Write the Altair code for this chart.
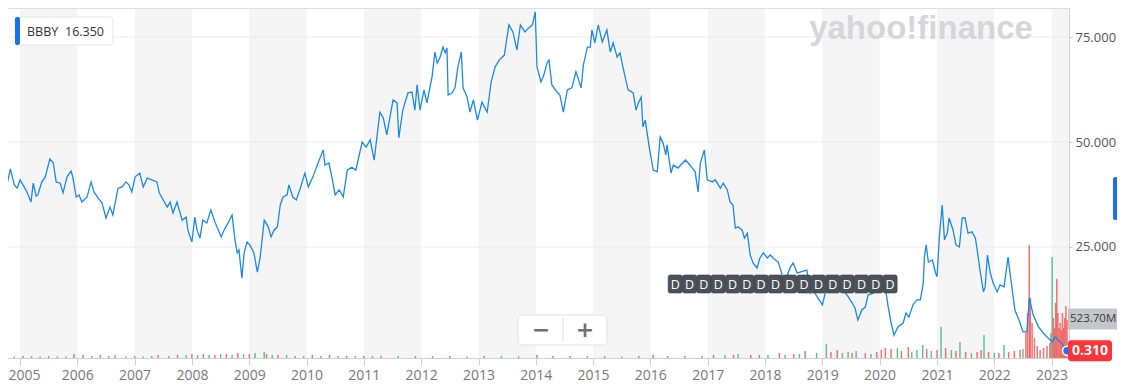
import altair as alt
import pandas as pd

# ---------------- data ----------------
ticker = "BBBY"
legend_value = "16.350"
last_volume_label = "523.70M"
last_volume_m = 523.70

# weekly close, sampled (decimal year, USD)
price_t = [2004.69, 2004.72, 2004.76, 2004.83, 2004.90, 2004.95, 2005.00, 2005.05, 2005.12, 2005.19,
           2005.23, 2005.28, 2005.31, 2005.38, 2005.44, 2005.52, 2005.58, 2005.63, 2005.70, 2005.75,
           2005.82, 2005.89, 2005.92, 2005.98, 2006.03, 2006.08, 2006.17, 2006.24, 2006.29, 2006.36,
           2006.43, 2006.50, 2006.57, 2006.62, 2006.66, 2006.71, 2006.78, 2006.85, 2006.90, 2006.95,
           2007.01, 2007.09, 2007.15, 2007.22, 2007.30, 2007.39, 2007.43, 2007.50, 2007.57, 2007.62,
           2007.67, 2007.74, 2007.83, 2007.90, 2007.93, 2008.00, 2008.05, 2008.09, 2008.14, 2008.19,
           2008.26, 2008.33, 2008.40, 2008.51, 2008.56, 2008.61, 2008.70, 2008.75, 2008.79, 2008.82,
           2008.87, 2008.91, 2008.96, 2009.01, 2009.08, 2009.14, 2009.19, 2009.26, 2009.33, 2009.38,
           2009.43, 2009.49, 2009.54, 2009.59, 2009.66, 2009.69, 2009.76, 2009.82, 2009.89, 2009.97,
           2010.03, 2010.11, 2010.20, 2010.29, 2010.32, 2010.39, 2010.44, 2010.50, 2010.57, 2010.64,
           2010.71, 2010.79, 2010.86, 2010.97, 2011.04, 2011.11, 2011.18, 2011.28, 2011.34, 2011.40,
           2011.51, 2011.58, 2011.61, 2011.68, 2011.77, 2011.84, 2011.89, 2011.93, 2011.98, 2012.05,
           2012.10, 2012.19, 2012.24, 2012.28, 2012.33, 2012.38, 2012.42, 2012.45, 2012.47, 2012.54,
           2012.59, 2012.64, 2012.70, 2012.73, 2012.80, 2012.85, 2012.91, 2012.98, 2013.06, 2013.15,
           2013.22, 2013.29, 2013.36, 2013.45, 2013.53, 2013.60, 2013.67, 2013.73, 2013.81, 2013.87,
           2013.94, 2013.99, 2014.02, 2014.09, 2014.14, 2014.20, 2014.23, 2014.28, 2014.37, 2014.42,
           2014.48, 2014.55, 2014.63, 2014.70, 2014.73, 2014.79, 2014.83, 2014.90, 2014.95, 2014.98,
           2015.03, 2015.09, 2015.16, 2015.24, 2015.30, 2015.35, 2015.42, 2015.47, 2015.52, 2015.61,
           2015.70, 2015.75, 2015.79, 2015.84, 2015.87, 2015.91, 2015.98, 2016.05, 2016.12, 2016.17,
           2016.22, 2016.27, 2016.29, 2016.36, 2016.40, 2016.48, 2016.61, 2016.66, 2016.73, 2016.78,
           2016.83, 2016.87, 2016.94, 2016.99, 2017.08, 2017.13, 2017.22, 2017.27, 2017.34, 2017.39,
           2017.44, 2017.48, 2017.53, 2017.60, 2017.64, 2017.69, 2017.74, 2017.79, 2017.86, 2017.91,
           2017.97, 2018.04, 2018.09, 2018.14, 2018.23, 2018.30, 2018.37, 2018.44, 2018.49, 2018.56,
           2018.61, 2018.73, 2018.79, 2018.86, 2018.91, 2019.00, 2019.05, 2019.14, 2019.22, 2019.31,
           2019.43, 2019.52, 2019.57, 2019.62, 2019.69, 2019.75, 2019.80, 2019.89, 2019.96, 2020.01,
           2020.10, 2020.15, 2020.20, 2020.25, 2020.32, 2020.41, 2020.46, 2020.51, 2020.58, 2020.65,
           2020.71, 2020.76, 2020.78, 2020.81, 2020.85, 2020.92, 2020.97, 2021.00, 2021.04, 2021.09,
           2021.13, 2021.18, 2021.21, 2021.28, 2021.33, 2021.39, 2021.44, 2021.49, 2021.54, 2021.61,
           2021.67, 2021.70, 2021.75, 2021.81, 2021.84, 2021.88, 2021.93, 2021.98, 2022.05, 2022.10,
           2022.17, 2022.24, 2022.29, 2022.36, 2022.45, 2022.50, 2022.57, 2022.61, 2022.68, 2022.77,
           2022.89, 2023.01, 2023.06, 2023.15, 2023.24, 2023.27]
price_v = [39.3, 38.8, 39.0, 43.6, 39.8, 39.0, 41.0, 39.8, 38.1, 35.7,
           40.2, 37.1, 37.4, 40.5, 41.7, 46.0, 45.0, 40.5, 40.2, 37.9,
           41.7, 43.1, 41.7, 36.9, 37.4, 35.7, 36.9, 40.5, 38.1, 36.7,
           35.5, 31.9, 34.5, 32.6, 35.5, 39.0, 39.3, 40.5, 39.8, 38.1,
           41.7, 42.6, 39.3, 41.4, 41.0, 40.5, 37.9, 36.2, 34.5, 35.7,
           33.1, 35.7, 31.4, 32.1, 29.0, 26.2, 32.1, 29.0, 27.1, 31.4,
           30.7, 33.8, 31.0, 27.4, 29.0, 30.2, 32.6, 26.7, 23.6, 24.3,
           17.6, 23.6, 26.2, 25.5, 23.6, 19.0, 22.6, 31.4, 29.8, 27.4,
           29.0, 29.8, 35.0, 36.9, 37.4, 39.8, 36.9, 36.2, 39.0, 42.6,
           39.3, 41.7, 45.0, 48.1, 44.5, 45.0, 41.7, 37.4, 38.6, 36.9,
           43.3, 44.0, 43.3, 50.0, 48.8, 50.5, 45.7, 57.1, 55.7, 51.7,
           60.0, 59.3, 51.0, 57.6, 61.7, 61.9, 57.6, 63.6, 57.6, 62.4,
           59.3, 65.5, 71.4, 68.8, 70.2, 72.6, 71.2, 72.4, 61.2, 61.7,
           62.9, 67.9, 71.4, 62.9, 60.7, 57.1, 60.0, 55.2, 59.5, 57.1,
           64.3, 67.9, 69.5, 70.7, 77.9, 76.2, 71.9, 77.9, 76.2, 77.1,
           77.9, 81.0, 67.9, 64.3, 66.0, 69.0, 69.5, 63.6, 61.9, 61.2,
           57.1, 62.4, 62.9, 66.7, 65.5, 62.9, 68.3, 72.6, 72.6, 76.7,
           73.6, 77.9, 73.8, 76.7, 71.4, 73.6, 70.2, 71.2, 67.9, 62.4,
           61.7, 57.6, 59.3, 60.7, 53.6, 55.2, 48.8, 43.3, 42.9, 51.2,
           49.8, 46.9, 49.3, 42.6, 44.5, 43.8, 45.7, 45.0, 43.8, 42.9,
           38.1, 45.0, 48.1, 41.0, 40.5, 41.0, 39.0, 40.2, 38.6, 35.7,
           35.0, 29.5, 29.8, 29.0, 27.1, 28.3, 23.1, 21.2, 20.0, 22.4,
           23.6, 22.4, 23.1, 22.4, 21.4, 18.3, 17.6, 20.2, 21.2, 18.8,
           19.0, 19.5, 14.0, 14.3, 13.1, 11.2, 14.0, 15.2, 14.8, 15.5,
           13.6, 11.7, 10.5, 7.6, 10.0, 10.7, 13.6, 14.0, 16.4, 15.2,
           15.2, 10.7, 6.9, 4.0, 6.0, 6.9, 9.3, 8.3, 11.2, 12.4,
           12.4, 16.4, 22.6, 25.5, 21.4, 21.9, 19.0, 17.9, 27.4, 35.0,
           26.7, 28.3, 31.9, 29.0, 25.5, 25.0, 31.9, 31.9, 28.3, 28.6,
           27.1, 24.3, 19.5, 14.3, 15.5, 23.1, 18.8, 16.4, 14.3, 16.0,
           15.5, 22.6, 17.1, 10.0, 6.9, 4.8, 4.8, 12.9, 8.8, 6.0,
           4.0, 2.4, 3.6, 2.4, 1.0, 0.31]

# weekly volume (decimal year, millions of shares, 1 = up week)
vol_t = [2004.75, 2004.90, 2005.05, 2005.20, 2005.35, 2005.50, 2005.65, 2005.80, 2005.94, 2006.10,
         2006.25, 2006.40, 2006.55, 2006.66, 2006.85, 2007.00, 2007.15, 2007.30, 2007.41, 2007.60,
         2007.75, 2007.90, 2008.00, 2008.10, 2008.20, 2008.30, 2008.40, 2008.50, 2008.60, 2008.70,
         2008.80, 2008.90, 2009.00, 2009.10, 2009.26, 2009.30, 2009.40, 2009.50, 2009.65, 2009.80,
         2009.95, 2010.10, 2010.25, 2010.40, 2010.55, 2010.70, 2010.85, 2011.00, 2011.15, 2011.30,
         2011.60, 2011.90, 2012.20, 2012.50, 2012.80, 2013.10, 2013.40, 2013.70, 2014.02, 2014.30,
         2014.60, 2014.90, 2015.20, 2015.50, 2015.80, 2016.05, 2016.30, 2016.60, 2016.90, 2017.10,
         2017.30, 2017.45, 2017.53, 2017.75, 2017.90, 2018.05, 2018.25, 2018.35, 2018.50, 2018.60,
         2018.70, 2018.90, 2019.07, 2019.15, 2019.26, 2019.35, 2019.45, 2019.52, 2019.59, 2019.75,
         2019.85, 2019.95, 2020.03, 2020.10, 2020.20, 2020.31, 2020.38, 2020.50, 2020.56, 2020.65,
         2020.75, 2020.82, 2020.90, 2021.00, 2021.07, 2021.15, 2021.25, 2021.33, 2021.40, 2021.50,
         2021.60, 2021.70, 2021.77, 2021.82, 2021.90, 2022.00, 2022.08, 2022.17, 2022.25, 2022.35,
         2022.45, 2022.50, 2022.55, 2022.58, 2022.61, 2022.63, 2022.66, 2022.70, 2022.75, 2022.80,
         2022.86, 2022.92, 2022.97, 2022.99, 2023.01, 2023.03, 2023.05, 2023.07, 2023.09, 2023.11,
         2023.13, 2023.15, 2023.17, 2023.19, 2023.21, 2023.23, 2023.25, 2023.27]
vol_m = [27, 20, 27, 25, 20, 27, 20, 20, 54, 40,
         27, 40, 27, 40, 20, 27, 20, 27, 40, 27,
         40, 40, 54, 40, 54, 40, 40, 54, 54, 40,
         67, 54, 54, 67, 80, 54, 40, 40, 40, 27,
         27, 40, 27, 40, 27, 27, 27, 27, 27, 27,
         27, 27, 27, 27, 20, 27, 27, 20, 40, 27,
         27, 27, 27, 20, 27, 40, 27, 27, 27, 40,
         40, 40, 54, 40, 40, 40, 67, 40, 54, 54,
         94, 67, 188, 80, 107, 67, 80, 67, 94, 67,
         54, 80, 107, 134, 120, 134, 94, 147, 80, 107,
         174, 120, 94, 107, 415, 134, 107, 94, 214, 80,
         67, 80, 107, 308, 80, 67, 67, 174, 80, 94,
         107, 120, 335, 603, 1514, 804, 469, 268, 160, 107,
         134, 160, 200, 335, 1353, 536, 402, 737, 1059, 603,
         402, 469, 375, 603, 402, 536, 697, 509]
vol_up = [0, 1, 0, 1, 0, 1, 0, 1, 0, 0,
          1, 0, 1, 1, 1, 0, 1, 0, 0, 1,
          0, 1, 0, 1, 0, 1, 0, 1, 0, 1,
          0, 1, 0, 1, 1, 0, 1, 0, 1, 0,
          1, 0, 1, 0, 1, 0, 1, 0, 1, 0,
          1, 0, 1, 0, 1, 0, 1, 0, 0, 1,
          0, 1, 0, 1, 0, 0, 1, 0, 1, 0,
          1, 0, 1, 0, 0, 1, 0, 1, 0, 1,
          0, 1, 1, 0, 0, 1, 1, 0, 1, 0,
          1, 0, 0, 0, 0, 1, 0, 0, 1, 1,
          1, 0, 1, 0, 1, 0, 1, 0, 1, 0,
          1, 0, 0, 1, 0, 1, 0, 1, 0, 0,
          0, 1, 0, 0, 0, 0, 0, 0, 0, 0,
          0, 0, 0, 0, 1, 0, 0, 0, 0, 0,
          0, 0, 0, 0, 0, 0, 0, 0]

# dividend ("D") markers
div_dates = ["2016-06-08", "2016-09-07", "2016-12-07", "2017-03-08", "2017-06-08", "2017-09-07",
             "2017-12-07", "2018-03-08", "2018-06-07", "2018-09-07", "2018-12-07", "2019-03-08",
             "2019-06-07", "2019-09-07", "2019-12-07", "2020-03-07"]
div_label = "D"

tick_years = list(range(2005, 2024))
band_years = list(range(2005, 2024, 2))
grid_prices = [25, 50, 75]

# ---------------- build tables ----------------
def dec2date(t):
    y = int(t)
    s = pd.Timestamp(year=y, month=1, day=1)
    e = pd.Timestamp(year=y + 1, month=1, day=1)
    return s + (e - s) * (t - y)

price_df = pd.DataFrame({"date": [dec2date(t) for t in price_t], "price": price_v})
vol_df = pd.DataFrame({"date": [dec2date(t) for t in vol_t], "vol": vol_m,
                       "dir": ["up" if u else "down" for u in vol_up]})
band_df = pd.DataFrame({"start": [pd.Timestamp(year=y, month=1, day=1) for y in band_years],
                        "end": [pd.Timestamp(year=y + 1, month=1, day=1) for y in band_years]})
grid_df = pd.DataFrame({"p": grid_prices})
div_df = pd.DataFrame({"date": pd.to_datetime(div_dates), "label": div_label})
last_df = price_df.tail(1).copy()
last_df["label"] = [f"{v:.3f}" for v in last_df["price"]]
vlab_df = pd.DataFrame({"vol": [last_volume_m], "label": [last_volume_label]})
one = pd.DataFrame({"k": [0]})

W, H = 1069, 353
FONT = "Open Sans"
LINE = "#1e88e5"

xs = alt.Scale(domain=[alt.DateTime(year=2004, month=8, date=26),
                       alt.DateTime(year=2023, month=4, date=22)])
ps = alt.Scale(domain=[-1.43, 82.62], nice=False, zero=False)
vs = alt.Scale(domain=[0, 4730], nice=False, zero=False)

x_axis = alt.Axis(values=[alt.DateTime(year=y, month=1, date=1) for y in tick_years],
                  format="%Y", title=None, grid=False, labelFont=FONT, labelFontSize=14,
                  labelColor="#7a7a7a", tickColor="#cfcfcf", tickSize=7, domainColor="#d2d2d2",
                  labelPadding=3, labelOverlap=False, labelFlush=False,
                  labelOffset={"expr": "year(datum.value) == 2005 ? 4 : 0"})
y_axis = alt.Axis(orient="right", values=grid_prices, format=".3f", title=None, grid=False,
                  labelFont=FONT, labelFontSize=13, labelColor="#555555", tickColor="#c8c8c8",
                  tickSize=3, domainColor="#d2d2d2", labelPadding=3)


def X(field):
    return alt.X(field, scale=xs, axis=x_axis)


bands = alt.Chart(band_df).mark_rect(color="#f5f5f5", clip=True).encode(
    x=X("start:T"), x2="end:T", y=alt.value(0), y2=alt.value(H))

top_line = alt.Chart(one).mark_rule(color="#dedede").encode(
    x=alt.value(0), x2=alt.value(W), y=alt.value(3.5))

grid = alt.Chart(grid_df).mark_rule(color="#ebebeb").encode(
    y=alt.Y("p:Q", scale=ps, axis=None))

watermark = alt.Chart(one).mark_text(
    text="yahoo!finance", font="Liberation Sans", fontSize=33, fontWeight="bold",
    color="#d6d6da", align="center", baseline="alphabetic").encode(
    x=alt.value(921), y=alt.value(33.5))

volume = alt.Chart(vol_df).mark_rule(strokeWidth=1.5, opacity=0.85, clip=True).encode(
    x=X("date:T"),
    y=alt.Y("vol:Q", scale=vs, axis=None),
    y2=alt.datum(0),
    color=alt.Color("dir:N", scale=alt.Scale(domain=["up", "down"], range=["#45b97c", "#f05a5a"]),
                    legend=None))

line = alt.Chart(price_df).mark_line(color=LINE, strokeWidth=1.3, clip=True).encode(
    x=X("date:T"), y=alt.Y("price:Q", scale=ps, axis=y_axis))

# legend box top-left
leg_box = alt.Chart(one).mark_rect(color="white", stroke="#e6e6e6", strokeWidth=1,
                                   cornerRadius=3).encode(
    x=alt.value(15), x2=alt.value(113), y=alt.value(12), y2=alt.value(40))
leg_bar = alt.Chart(one).mark_rect(color="#1a73e8", cornerRadius=2).encode(
    x=alt.value(15), x2=alt.value(20), y=alt.value(12), y2=alt.value(40))
leg_t1 = alt.Chart(one).mark_text(text=ticker, font=FONT, fontSize=12.5, color="#333333",
                                  align="left", baseline="middle").encode(
    x=alt.value(27), y=alt.value(26.5))
leg_t2 = alt.Chart(one).mark_text(text=legend_value, font=FONT, fontSize=12.5, color="#333333",
                                  align="left", baseline="middle").encode(
    x=alt.value(65), y=alt.value(26.5))

# dividend badges
div_box = alt.Chart(div_df).mark_tick(orient="vertical", size=18, thickness=14.3,
                                      color="#4a5158", stroke="#3a4046", strokeWidth=0.6,
                                      opacity=1, cornerRadius=2).encode(
    x=X("date:T"), y=alt.value(279))
div_txt = alt.Chart(div_df).mark_text(font=FONT, fontSize=12.5, color="white", align="center",
                                      baseline="middle").encode(
    x=X("date:T"), y=alt.value(279.5), text="label:N")

# zoom control
zbox = alt.Chart(one).mark_rect(color="white", stroke="#e0e0e0", strokeWidth=1,
                                cornerRadius=4).encode(
    x=alt.value(518), x2=alt.value(607), y=alt.value(310), y2=alt.value(340))
zsep = alt.Chart(one).mark_rule(color="#dddddd").encode(
    x=alt.value(563), y=alt.value(313), y2=alt.value(337))
zminus = alt.Chart(one).mark_text(text="\u2212", font="DejaVu Sans", fontSize=22, fontWeight="bold",
                                  color="#707070", align="center", baseline="middle").encode(
    x=alt.value(541), y=alt.value(325))
zplus = alt.Chart(one).mark_text(text="+", font="DejaVu Sans", fontSize=22, fontWeight="bold",
                                 color="#707070", align="center", baseline="middle").encode(
    x=alt.value(585), y=alt.value(325))

# last value markers
dot = alt.Chart(last_df).mark_point(filled=True, size=80, color="#1a73e8", stroke="white",
                                    strokeWidth=1.5, opacity=1).encode(
    x=X("date:T"), y=alt.Y("price:Q", scale=ps, axis=None))
p_box = alt.Chart(last_df).mark_tick(orient="horizontal", size=44, thickness=21,
                                     color="#ff333a", opacity=1, cornerRadius=3).encode(
    x=alt.value(1090), y=alt.Y("price:Q", scale=ps, axis=None))
p_txt = alt.Chart(last_df).mark_text(font=FONT, fontSize=14, fontWeight="bold", color="white",
                                     align="center", baseline="middle").encode(
    x=alt.value(1090), y=alt.Y("price:Q", scale=ps, axis=None), text="label:N")
v_box = alt.Chart(vlab_df).mark_tick(orient="horizontal", size=50, thickness=21,
                                     color="#c3c6ca", opacity=1).encode(
    x=alt.value(1093), y=alt.Y("vol:Q", scale=vs, axis=None))
v_txt = alt.Chart(vlab_df).mark_text(font=FONT, fontSize=11.5, color="#3a3a3a",
                                     align="left", baseline="middle").encode(
    x=alt.value(1070), y=alt.Y("vol:Q", scale=vs, axis=None), text="label:N")

edge_bar = alt.Chart(one).mark_rect(color="#1a73e8", cornerRadius=2).encode(
    x=alt.value(1113), x2=alt.value(1118), y=alt.value(172), y2=alt.value(215))

chart = alt.layer(
    bands, top_line, grid, watermark, volume, line,
    leg_box, leg_bar, leg_t1, leg_t2,
    div_box, div_txt,
    zbox, zsep, zminus, zplus,
    dot, v_box, v_txt, p_box, p_txt, edge_bar,
).resolve_scale(y="independent").properties(
    width=W, height=H,
    autosize=alt.AutoSizeParams(type="none"),
    padding={"left": -8, "top": -3, "right": 48, "bottom": 31},
    background="white",
).configure_view(stroke=None)

chart.save("out.html", embed_options={"renderer": "svg", "actions": False})
